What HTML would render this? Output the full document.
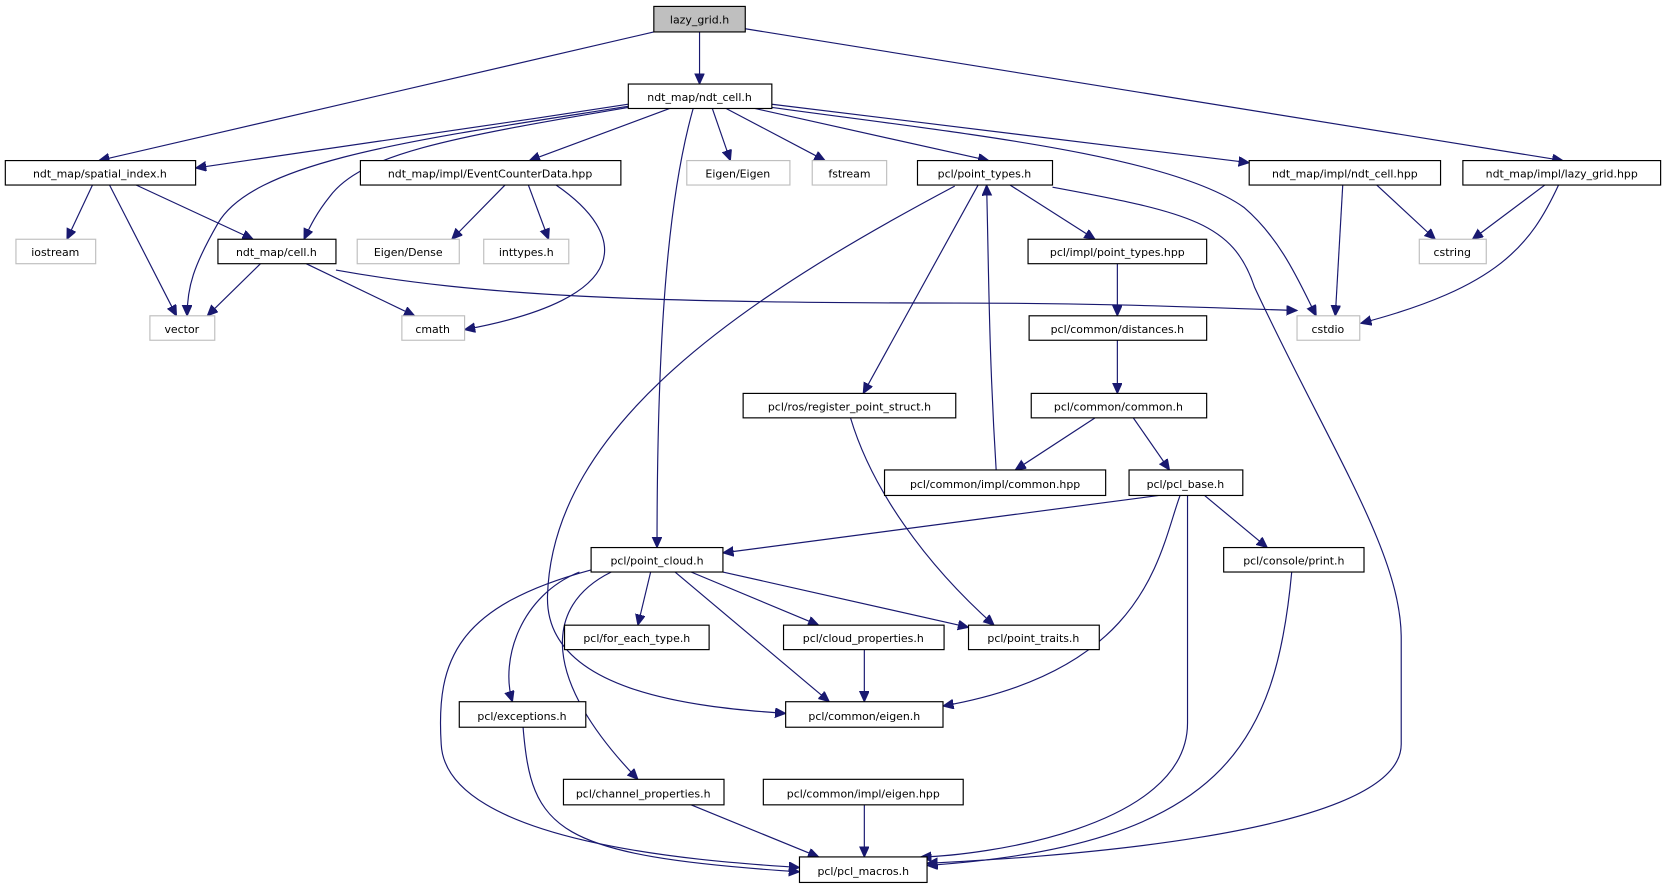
<!DOCTYPE html>
<html><head><meta charset="utf-8"><style>
html,body{margin:0;padding:0;background:#fff;}
svg{display:block;}
text{font-family:"DejaVu Sans","Liberation Sans",sans-serif;font-size:10.3px;fill:#000;text-anchor:middle;}
.n{fill:#fff;stroke:#000;stroke-width:1.1;}
.g{fill:#fff;stroke:#bfbfbf;stroke-width:1.1;}
.e{fill:none;stroke:#191970;stroke-width:1.1;marker-end:url(#a);}
</style></head><body>
<svg width="1667" height="891" viewBox="0 0 1568 838" xmlns="http://www.w3.org/2000/svg">
<defs><marker id="a" markerUnits="userSpaceOnUse" markerWidth="12" markerHeight="10" refX="10" refY="4.5" orient="auto"><path d="M0,0 L10,4.5 L0,9 Z" fill="#191970" stroke="#191970"/></marker></defs>
<g>
<path class="e" d="M615,30 L93,151"/>
<path class="e" d="M658,30 L658,79"/>
<path class="e" d="M701,27 L1470,151"/>
<path class="e" d="M591,98 C450,120 300,140 184,158"/>
<path class="e" d="M591,100 C400,130 240,150 205,210 C182,250 176,270 176,297"/>
<path class="e" d="M591,101 C420,130 340,145 310,185 C298,200 292,212 286,225"/>
<path class="e" d="M630,102 L498,151"/>
<path class="e" d="M652,102 C630,180 618,300 618,515"/>
<path class="e" d="M670,102 L687,151"/>
<path class="e" d="M683,102 L776,151"/>
<path class="e" d="M710,102 L930,151"/>
<path class="e" d="M726,101 C900,125 1100,145 1170,195 C1205,225 1222,265 1238,297"/>
<path class="e" d="M726,98 L1175,153"/>
<path class="e" d="M87,174 L63,225"/>
<path class="e" d="M103,174 L166,297"/>
<path class="e" d="M128,174 L238,225"/>
<path class="e" d="M245,248 L195,297"/>
<path class="e" d="M288,248 L390,297"/>
<path class="e" d="M316,254 C450,278 600,285 900,285 C1050,285 1150,290 1220,292"/>
<path class="e" d="M475,174 L425,225"/>
<path class="e" d="M497,174 L516,225"/>
<path class="e" d="M523,174 C590,220 600,280 437,310"/>
<path class="e" d="M950,174 L1030,225"/>
<path class="e" d="M920,174 L812,370"/>
<path class="e" d="M898,175 C700,280 520,400 515,560 C512,650 650,665 739,671"/>
<path class="e" d="M990,176 C1120,200 1160,210 1180,270 C1250,420 1318,520 1318,600 L1318,700 C1318,790 950,808 872,812"/>
<path class="e" d="M1295,174 L1350,225"/>
<path class="e" d="M1263,174 L1256,297"/>
<path class="e" d="M1453,174 L1385,225"/>
<path class="e" d="M1466,174 C1440,230 1410,270 1280,304"/>
<path class="e" d="M1051,248 L1051,297"/>
<path class="e" d="M1051,320 L1051,370"/>
<path class="e" d="M1030,393 L955,442"/>
<path class="e" d="M1066,393 L1100,442"/>
<path class="e" d="M937,442 C930,330 930,250 928,174"/>
<path class="e" d="M800,393 C820,460 870,530 935,588"/>
<path class="e" d="M1090,466 L680,520"/>
<path class="e" d="M1133,466 L1192,515"/>
<path class="e" d="M1110,466 C1090,520 1080,630 887,664"/>
<path class="e" d="M1117,466 L1117,680 C1117,780 920,805 866,806"/>
<path class="e" d="M1215,538 C1200,700 1150,795 872,814"/>
<path class="e" d="M612,538 L600,588"/>
<path class="e" d="M650,538 L770,588"/>
<path class="e" d="M680,538 L911,590"/>
<path class="e" d="M635,538 L780,660"/>
<path class="e" d="M545,538 C490,560 470,620 482,660"/>
<path class="e" d="M575,538 C510,570 510,640 600,733"/>
<path class="e" d="M556,536 C430,570 410,620 415,700 C420,800 700,812 752,816"/>
<path class="e" d="M813,611 L813,660"/>
<path class="e" d="M492,684 C500,780 520,805 752,820"/>
<path class="e" d="M650,757 L770,806"/>
<path class="e" d="M813,757 L813,806"/>
</g>
<g>
<rect x="615" y="6" width="86" height="24" fill="#bfbfbf" stroke="#000" stroke-width="1.1"/><text x="658" y="22">lazy_grid.h</text>
<rect class="n" x="591" y="79" width="135" height="23"/><text x="658" y="95">ndt_map/ndt_cell.h</text>
<rect class="n" x="5" y="151" width="179" height="23"/><text x="94" y="167">ndt_map/spatial_index.h</text>
<rect class="n" x="339" y="151" width="245" height="23"/><text x="461" y="167">ndt_map/impl/EventCounterData.hpp</text>
<rect class="g" x="646" y="151" width="97" height="23"/><text x="694" y="167">Eigen/Eigen</text>
<rect class="g" x="764" y="151" width="70" height="23"/><text x="799" y="167">fstream</text>
<rect class="n" x="863" y="151" width="127" height="23"/><text x="926" y="167">pcl/point_types.h</text>
<rect class="n" x="1175" y="151" width="180" height="23"/><text x="1265" y="167">ndt_map/impl/ndt_cell.hpp</text>
<rect class="n" x="1376" y="151" width="186" height="23"/><text x="1469" y="167">ndt_map/impl/lazy_grid.hpp</text>
<rect class="g" x="15" y="225" width="75" height="23"/><text x="52" y="241">iostream</text>
<rect class="n" x="205" y="225" width="111" height="23"/><text x="260" y="241">ndt_map/cell.h</text>
<rect class="g" x="336" y="225" width="96" height="23"/><text x="384" y="241">Eigen/Dense</text>
<rect class="g" x="455" y="225" width="80" height="23"/><text x="495" y="241">inttypes.h</text>
<rect class="n" x="967" y="225" width="168" height="23"/><text x="1051" y="241">pcl/impl/point_types.hpp</text>
<rect class="g" x="1335" y="225" width="63" height="23"/><text x="1366" y="241">cstring</text>
<rect class="g" x="141" y="297" width="61" height="23"/><text x="171" y="313">vector</text>
<rect class="g" x="378" y="297" width="59" height="23"/><text x="407" y="313">cmath</text>
<rect class="g" x="1220" y="297" width="59" height="23"/><text x="1249" y="313">cstdio</text>
<rect class="n" x="968" y="297" width="167" height="23"/><text x="1051" y="313">pcl/common/distances.h</text>
<rect class="n" x="699" y="370" width="200" height="23"/><text x="799" y="386">pcl/ros/register_point_struct.h</text>
<rect class="n" x="970" y="370" width="165" height="23"/><text x="1052" y="386">pcl/common/common.h</text>
<rect class="n" x="832" y="442" width="208" height="24"/><text x="936" y="459">pcl/common/impl/common.hpp</text>
<rect class="n" x="1062" y="442" width="107" height="24"/><text x="1115" y="459">pcl/pcl_base.h</text>
<rect class="n" x="556" y="515" width="124" height="23"/><text x="618" y="531">pcl/point_cloud.h</text>
<rect class="n" x="1151" y="515" width="132" height="23"/><text x="1217" y="531">pcl/console/print.h</text>
<rect class="n" x="531" y="588" width="136" height="23"/><text x="599" y="604">pcl/for_each_type.h</text>
<rect class="n" x="737" y="588" width="151" height="23"/><text x="812" y="604">pcl/cloud_properties.h</text>
<rect class="n" x="911" y="588" width="123" height="23"/><text x="972" y="604">pcl/point_traits.h</text>
<rect class="n" x="432" y="660" width="119" height="24"/><text x="491" y="677">pcl/exceptions.h</text>
<rect class="n" x="739" y="660" width="148" height="24"/><text x="813" y="677">pcl/common/eigen.h</text>
<rect class="n" x="530" y="733" width="151" height="24"/><text x="605" y="750">pcl/channel_properties.h</text>
<rect class="n" x="718" y="733" width="188" height="24"/><text x="812" y="750">pcl/common/impl/eigen.hpp</text>
<rect class="n" x="752" y="806" width="120" height="24"/><text x="812" y="823">pcl/pcl_macros.h</text>
</g>
</svg>
</body></html>
